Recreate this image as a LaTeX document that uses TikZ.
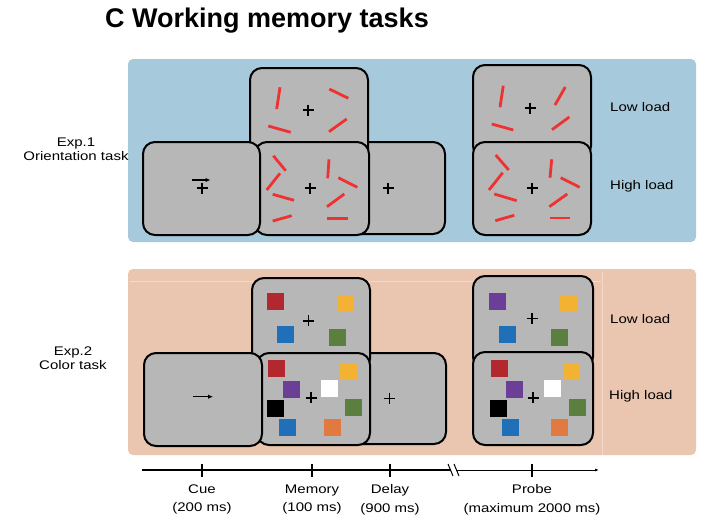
\documentclass[tikz,border=0pt]{standalone}
\usepackage{fontspec}
\setmainfont{Liberation Sans}
\newfontfamily\labelfont{Liberation Sans}[FakeStretch=1.2]
\newfontfamily\titlefont{Liberation Sans}
\usepackage{tikz}
\usetikzlibrary{positioning}
\usetikzlibrary{arrows.meta}

\definecolor{panelblue}{RGB}{166,201,219}
\definecolor{panelorange}{RGB}{234,197,175}
\definecolor{faintline}{RGB}{244,216,200}
\definecolor{scrgray}{RGB}{183,183,183}
\definecolor{barred}{RGB}{238,50,50}
\definecolor{sqred}{RGB}{178,40,46}
\definecolor{sqyellow}{RGB}{243,178,52}
\definecolor{sqblue}{RGB}{31,112,184}
\definecolor{sqgreen}{RGB}{90,127,62}
\definecolor{sqpurple}{RGB}{107,63,152}
\definecolor{sqorange}{RGB}{224,122,64}

\tikzset{
	screen/.style={draw=black, line width=2pt, fill=scrgray, rounded corners=12pt, inner sep=0pt},
	redbar/.style={draw=barred, line width=2.8pt},
	fixcross/.style={draw=black, line width=1.6pt},
	lbl/.style={font=\labelfont\fontsize{12.5}{14}\selectfont, inner sep=0pt},
	tlabel/.style={lbl, align=center, font=\labelfont\fontsize{12.5}{18.5}\selectfont},
	timeline/.style={draw=black, line width=1.6pt}
}

\begin{document}
\begin{tikzpicture}[x=1pt, y=-1pt]
	\useasboundingbox (0,0) rectangle (711,523);

	% title
	\node[anchor=base west, inner sep=0pt, font=\titlefont\bfseries\fontsize{27}{30}\selectfont] (title) at (105,27) {C Working memory tasks};

	% panels
	\fill[panelblue, rounded corners=5pt] (128,59) rectangle (696,242);
	\fill[panelorange, rounded corners=5pt] (128,269) rectangle (696,455);
	\draw[faintline, line width=0.8pt] (130,281) -- (601,281);
	\draw[faintline, line width=0.8pt] (602,272) -- (602,455);

	% Exp.1 screens
	\node[screen, minimum width=117, minimum height=92] (delayA) at (386.5,188) {};
	\node[screen, minimum width=118, minimum height=93] (memLowA) at (309,114.5) {};
	\node[screen, minimum width=114, minimum height=93] (memHighA) at (312,188.5) {};
	\node[screen, minimum width=117, minimum height=93] (cueA) at (201.5,188.5) {};
	\node[screen, minimum width=118, minimum height=93] (probeLowA) at (532,111.5) {};
	\node[screen, minimum width=118, minimum height=93] (probeHighA) at (532,188.5) {};

	% Exp.2 screens
	\node[screen, minimum width=118, minimum height=91] (delayB) at (387,398.5) {};
	\node[screen, minimum width=118, minimum height=93] (memLowB) at (311,324.5) {};
	\node[screen, minimum width=113, minimum height=92] (memHighB) at (313.5,399) {};
	\node[screen, minimum width=118, minimum height=93] (cueB) at (203,399.5) {};
	\node[screen, minimum width=120, minimum height=93] (probeLowB) at (533,322.5) {};
	\node[screen, minimum width=120, minimum height=93] (probeHighB) at (533,398.5) {};

	% oriented bars
	\foreach \ax/\ay/\bx/\by in {280/87.3/276.7/109, 329.3/89/348.3/98.3, 268.3/126/290.7/132.3, 329/131.7/346.7/119,
		273.3/155.7/285.7/170.7, 266.7/190/280/173.3, 272.7/194.3/294/200.3, 272.7/221/291.7/215.7,
		329/159.3/327.7/178.3, 338.3/177.7/357.3/187.3, 327/206.7/344.3/194, 327.3/218.3/348/218.3,
		503.3/85.7/500/107.3, 565.3/87/555/105, 491.7/124/513.3/130, 552/129.7/569.3/117,
		495.7/155/508.7/170, 489/190/502.7/172.7, 494.3/194/516.7/200.7, 495.3/220.7/514.3/215.3,
		551.7/159.3/550/177.7, 560.7/177.7/579.7/187.3, 549.3/206.7/567.3/194, 550/218/570/218}
		\draw[redbar] (\ax,\ay) -- (\bx,\by);

	% colour squares
	\foreach \x/\y/\c in {275.3/301.3/sqred, 345.7/303.3/sqyellow, 285.3/334.3/sqblue, 337.5/337.5/sqgreen,
		276.5/368.3/sqred, 291.5/389.3/sqpurple, 275.5/408.3/black, 287.3/427.3/sqblue,
		348.5/371.7/sqyellow, 329.5/388.3/white, 353.8/407.2/sqgreen, 332.2/427.3/sqorange,
		497.5/301.3/sqpurple, 568.7/303.3/sqyellow, 507.5/334.3/sqblue, 559.5/337.5/sqgreen,
		499.5/368.3/sqred, 514.5/389.3/sqpurple, 498.5/408.3/black, 510.5/427.3/sqblue,
		571.5/371.7/sqyellow, 552.5/388.3/white, 577.5/407.3/sqgreen, 559.5/427.3/sqorange}
		\fill[\c] (\x,\y) +(-8.5,-8.5) rectangle +(8.5,8.5);

	% fixation crosses
	\foreach \x/\y in {308/110, 310/188, 388/188, 202/188, 530/108, 532/188,
		308.3/320.7, 311/397.7, 389.3/398.3, 532/318.3, 533/397.7}
		\draw[fixcross] (\x-5.5,\y) -- (\x+5.5,\y) (\x,\y-5.5) -- (\x,\y+5.5);

	% cue arrows
	\draw[line width=1.4pt, -{Latex[length=5pt,width=4.5pt]}] (191.7,180) -- (210.5,180);
	\draw[line width=1.4pt, -{Latex[length=5pt,width=4.5pt]}] (193.3,396.7) -- (213,396.7);

	% side labels
	\node[lbl, align=center] (exp1) at (76,149.5) {Exp.1\\Orientation task};
	\node[lbl, align=center] (exp2) at (73,358) {Exp.2\\Color task};
	\node[lbl, anchor=west] (lowA) at (610,107) {Low load};
	\node[lbl, anchor=west] (highA) at (610,186) {High load};
	\node[lbl, anchor=west] (lowB) at (610,319) {Low load};
	\node[lbl, anchor=west] (highB) at (609,396) {High load};

	% time line
	\coordinate (t0) at (142,470);
	\coordinate (brkA) at (451,470);
	\coordinate (brkB) at (456,470);
	\coordinate (tEnd) at (599,470);
	\coordinate (tCue) at (202,470);
	\coordinate (tMem) at (312,470);
	\coordinate (tDel) at (390,470);
	\coordinate (tProbe) at (532,470);
	\draw[timeline] (t0) -- (brkA);
	\draw[line width=0.8pt, -{Latex[length=4pt,width=3pt]}] (brkB) -- (tEnd);
	\draw[line width=1pt] ([xshift=-3pt,yshift=6pt]brkA) -- ([xshift=2pt,yshift=-6pt]brkA);
	\draw[line width=1pt] ([xshift=-2pt,yshift=6pt]brkB) -- ([xshift=3pt,yshift=-6pt]brkB);
	\foreach \t in {tCue, tMem, tDel, tProbe}
		\draw[line width=1.4pt] ([yshift=-6.5pt]\t) -- ([yshift=6.5pt]\t);

	\node[tlabel, below=14.5pt of tCue] (lCue) {Cue\\(200 ms)};
	\node[tlabel, below=14.5pt of tMem] (lMem) {Memory\\(100 ms)};
	\node[tlabel, below=14.5pt of tDel] (lDel) {Delay\\(900 ms)};
	\node[tlabel, below=14.5pt of tProbe] (lProbe) {Probe\\(maximum 2000 ms)};
\end{tikzpicture}
\end{document}
